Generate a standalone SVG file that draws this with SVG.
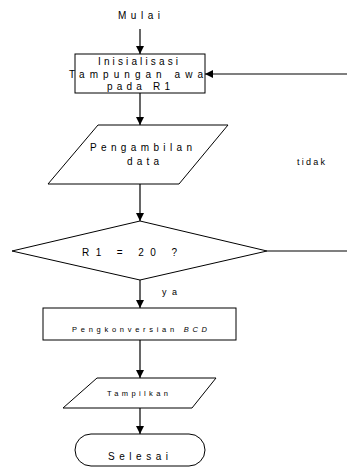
<svg xmlns="http://www.w3.org/2000/svg" width="347" height="467" viewBox="0 0 347 467">
<defs>
<marker id="arr" viewBox="0 0 10 10" refX="10" refY="5" markerWidth="8" markerHeight="8" markerUnits="userSpaceOnUse" orient="auto">
<path d="M0,0 L10,5 L0,10 z" fill="#000"/>
</marker>
<style>
.s{fill:#fff;stroke:#000;stroke-width:1}
.c{fill:none;stroke:#000;stroke-width:1.2}
.t{font-family:"Liberation Sans",Arial,sans-serif;font-size:10px;fill:#000}
.m{font-size:9px}
.sm{font-size:7.5px}
</style>
</defs>
<rect width="347" height="467" fill="#fff"/>
<g id="connectors">
<line class="c" x1="140" y1="29" x2="140" y2="54" marker-end="url(#arr)"/>
<line class="c" x1="347" y1="74" x2="205" y2="74" marker-end="url(#arr)"/>
<line class="c" x1="140" y1="93" x2="140" y2="125" marker-end="url(#arr)"/>
<line class="c" x1="140" y1="184" x2="140" y2="221" marker-end="url(#arr)"/>
<line class="c" x1="267" y1="251" x2="347" y2="251"/>
<line class="c" x1="140" y1="280" x2="140" y2="308" marker-end="url(#arr)"/>
<line class="c" x1="140" y1="340" x2="140" y2="378" marker-end="url(#arr)"/>
<line class="c" x1="140" y1="408" x2="140" y2="434" marker-end="url(#arr)"/>
<text class="t m" x="297" y="165" textLength="28" lengthAdjust="spacing">tidak</text>
<text class="t m" x="162" y="295" textLength="15" lengthAdjust="spacing">ya</text>
</g>
<g id="mulai">
<text class="t" x="118" y="19" textLength="42" lengthAdjust="spacing">Mulai</text>
</g>
<g id="inisialisasi">
<rect class="s" x="75" y="54" width="130" height="39"/>
<text class="t" x="98" y="65" textLength="80" lengthAdjust="spacing">Inisialisasi</text>
<text class="t" x="69" y="78" textLength="134" lengthAdjust="spacing">Tampungan awa</text>
<text class="t" x="107" y="90" textLength="63" lengthAdjust="spacing">pada R1</text>
</g>
<g id="pengambilan">
<polygon class="s" points="98,125 228,125 179,184 48,184"/>
<text class="t" x="90" y="151" textLength="102" lengthAdjust="spacing">Pengambilan</text>
<text class="t" x="127" y="165" textLength="32" lengthAdjust="spacing">data</text>
</g>
<g id="keputusan">
<polygon class="s" points="140,221 267,251 140,280 12,251"/>
<text class="t" x="82" y="256" textLength="95" lengthAdjust="spacing">R1 = 20 ?</text>
</g>
<g id="konversi">
<rect class="s" x="43" y="308" width="193" height="32"/>
<text class="t sm" x="72" y="332" textLength="135" lengthAdjust="spacing">Pengkonversian <tspan font-style="italic">BCD</tspan></text>
</g>
<g id="tampilkan">
<polygon class="s" points="97,378 216,378 192,408 63,408"/>
<text class="t sm" x="107" y="396" textLength="61" lengthAdjust="spacing">Tampilkan</text>
</g>
<g id="selesai">
<rect class="s" x="75" y="434" width="130" height="32" rx="16" ry="16"/>
<text class="t" x="108" y="460" textLength="60" lengthAdjust="spacing">Selesai</text>
</g>
</svg>
